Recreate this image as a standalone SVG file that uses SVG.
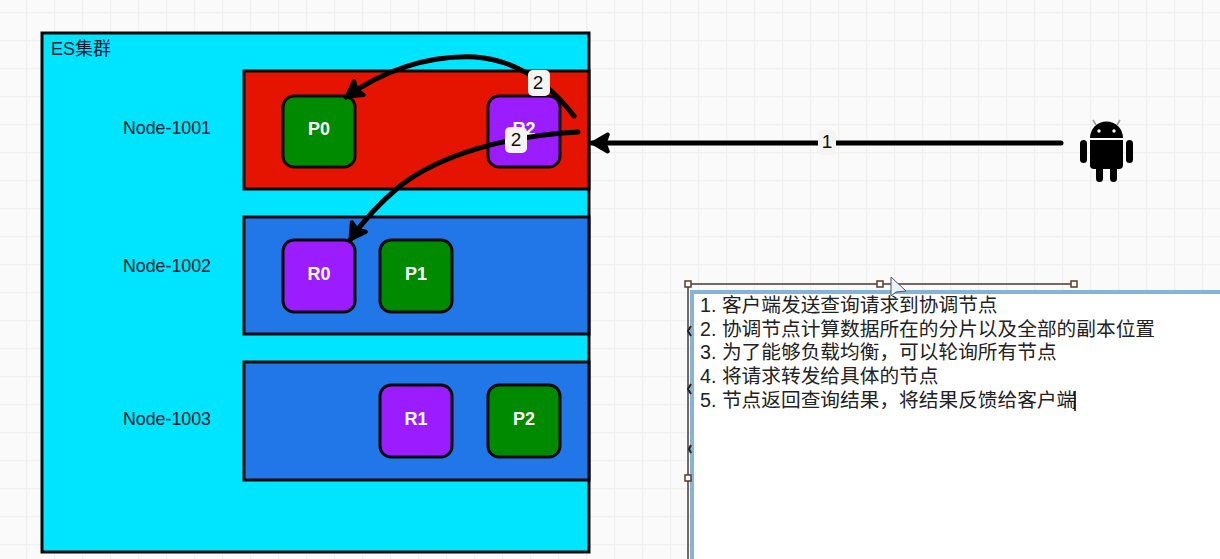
<svg xmlns="http://www.w3.org/2000/svg" width="1220" height="559" viewBox="0 0 1220 559">
<defs>
<pattern id="grid" width="28" height="28" patternUnits="userSpaceOnUse" x="26" y="12"><path d="M0.5 0V28M0 0.5H28" fill="none" stroke="#f0f0f0" stroke-width="1.500"/></pattern>
<marker id="ah" viewBox="0 0 11 11" refX="9.500" refY="5.500" markerWidth="4.600" markerHeight="4.600" orient="auto" markerUnits="strokeWidth"><path d="M2 1.500L9 5.500L2 9.500L3.500 5.500Z" fill="#000" stroke="#000" stroke-width="2" stroke-linejoin="round"/></marker>
</defs>
<style>
text{font-family:"Liberation Sans","Noto Sans CJK SC",sans-serif}
.box{stroke:#0a0a0a;stroke-width:3}
.shard{stroke:#0a0a0a;stroke-width:3}
.sl{font-size:18px;font-weight:700;fill:#fff;text-anchor:middle}
.nl{font-size:17.800px;fill:#0a1a30}
.conn{fill:none;stroke:#000;stroke-width:5;stroke-linecap:round}
.badge{fill:#f6f4f0}
.bt{font-size:19px;fill:#111;text-anchor:middle}
.note{font-size:19.700px;fill:#222}
.h{fill:#fff;stroke:#5a3a2a;stroke-width:1.500}
.mark{fill:none;stroke:#222;stroke-width:2}
</style>
<rect width="1220" height="559" fill="#fafafa"/>
<rect width="1220" height="559" fill="url(#grid)"/>
<g id="cluster"><rect class="box" x="42" y="33" width="547" height="519" fill="#00e5ff"/><text x="51" y="55" font-size="18" fill="#0a1a30">ES集群</text></g>
<g id="node-1001"><rect class="box" x="244" y="71" width="345" height="118" fill="#e51400"/><text class="nl" x="123" y="134">Node-1001</text></g>
<g id="node-1002"><rect class="box" x="244" y="217" width="345" height="117" fill="#2277e8"/><text class="nl" x="123" y="272">Node-1002</text></g>
<g id="node-1003"><rect class="box" x="244" y="362" width="345" height="118" fill="#2277e8"/><text class="nl" x="123" y="425">Node-1003</text></g>
<g id="p0"><rect class="shard" x="283" y="96" width="72" height="71" rx="11" fill="#008a00"/><text class="sl" x="319" y="135">P0</text></g>
<g id="r2"><rect class="shard" x="488" y="96" width="72" height="71" rx="11" fill="#9a1cff"/><text class="sl" x="524" y="135">R2</text></g>
<g id="r0"><rect class="shard" x="283" y="240" width="72" height="72" rx="11" fill="#9a1cff"/><text class="sl" x="319" y="280">R0</text></g>
<g id="p1"><rect class="shard" x="380" y="240" width="72" height="72" rx="11" fill="#008a00"/><text class="sl" x="416" y="280">P1</text></g>
<g id="r1"><rect class="shard" x="380" y="385" width="72" height="72" rx="11" fill="#9a1cff"/><text class="sl" x="416" y="425">R1</text></g>
<g id="p2"><rect class="shard" x="488" y="385" width="72" height="72" rx="11" fill="#008a00"/><text class="sl" x="524" y="425">P2</text></g>
<g id="connectors">
<path class="conn" d="M1061 143H592" marker-end="url(#ah)"/>
<path class="conn" d="M574 116C548 82 515 60 475 57C425 55 382 72 346 97" marker-end="url(#ah)"/>
<path class="conn" d="M578 132C505 136 440 155 400 186C382 201 365 218 350 240" marker-end="url(#ah)"/>
<rect class="badge" x="818" y="130" width="18" height="25" rx="5"/><text class="bt" x="827" y="148" font-size="16">1</text>
<rect class="badge" x="528" y="70" width="22" height="26" rx="5"/><text class="bt" x="538" y="89">2</text>
<rect class="badge" x="505" y="127" width="22" height="26" rx="5"/><text class="bt" x="516" y="146">2</text>
</g>
<g id="android" fill="#000">
<path d="M1090 138a16.500 16.500 0 0 1 33 0Z"/>
<path d="M1096 125l-3-5M1117 125l3-5" stroke="#999" stroke-width="1.500"/>
<circle cx="1099" cy="131" r="1.700" fill="#fff"/><circle cx="1114" cy="131" r="1.700" fill="#fff"/>
<path d="M1090 140H1123V165a4 4 0 0 1-4 4H1094a4 4 0 0 1-4-4Z"/>
<rect x="1080" y="140" width="7" height="23" rx="3.500"/><rect x="1126" y="140" width="7" height="23" rx="3.500"/>
<rect x="1096" y="165" width="7" height="17" rx="3.500"/><rect x="1110" y="165" width="7" height="17" rx="3.500"/>
</g>
<g id="note">
<rect x="692" y="292" width="530" height="269" fill="#fff" stroke="#86b4d8" stroke-width="4"/>
<path d="M688 284H1074M688 284V559" fill="none" stroke="#4a3a30" stroke-width="1.500"/>
<path class="mark" d="M691 326l-3 5l3 5M691 384l-3 5l3 5M691 445l-2 4l2 4"/>
<rect class="h" x="685" y="281" width="6" height="6"/><rect class="h" x="877" y="281" width="6" height="6"/><rect class="h" x="1071" y="281" width="6" height="6"/><rect class="h" x="685" y="475" width="6" height="6"/>
<text class="note" x="700" y="312">1. 客户端发送查询请求到协调节点</text>
<text class="note" x="700" y="336">2. 协调节点计算数据所在的分片以及全部的副本位置</text>
<text class="note" x="700" y="359">3. 为了能够负载均衡，可以轮询所有节点</text>
<text class="note" x="700" y="383">4. 将请求转发给具体的节点</text>
<text class="note" x="700" y="407">5. 节点返回查询结果，将结果反馈给客户端</text>
<path d="M1075 391V411" stroke="#000" stroke-width="1.500"/>
<path d="M891 277L891 296L896 292L906 291Z" fill="#e8f2f8" stroke="#555" stroke-width="1"/>
</g>
</svg>
